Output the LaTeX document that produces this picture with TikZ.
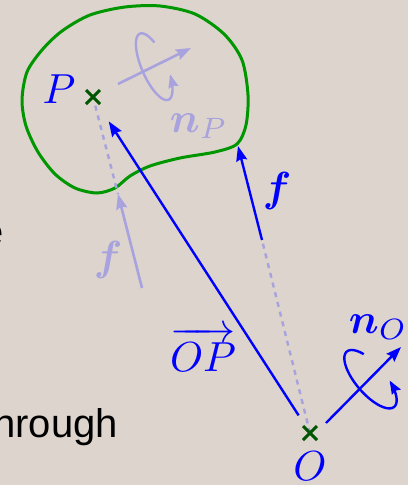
\documentclass[tikz,border=0pt]{standalone}
\usepackage{amsmath}
\usepackage{fontspec}
\newfontfamily\slidefont{Liberation Sans}
\usetikzlibrary{arrows.meta}
\definecolor{slidebg}{RGB}{220, 212, 205}
\definecolor{vecblue}{RGB}{0, 0, 255}
\definecolor{fadeblue}{RGB}{168, 162, 222}
\definecolor{bodygreen}{RGB}{0, 150, 0}
\definecolor{markgreen}{RGB}{0, 85, 0}
\newcommand{\slidesize}{\slidefont\fontsize{40}{48}\selectfont}

\begin{document}
\begin{tikzpicture}[x=1pt, y=-1pt, line join=round,
        vec/.style={draw=vecblue, line width=2.4pt, -{Stealth[length=15pt, width=11pt, inset=2pt]}},
        ghostvec/.style={draw=fadeblue, line width=2.6pt, -{Stealth[length=15pt, width=11pt, inset=2pt]}},
        spinvec/.style={line width=2.4pt, -{Stealth[length=13pt, width=10pt, inset=1.5pt]}},
        ghostline/.style={draw=fadeblue, line width=2.4pt, dash pattern=on 5pt off 5pt},
        pointmark/.style={draw=markgreen, line width=3pt},
        lbl/.style={scale=4.2, inner sep=0pt},
        slidetext/.style={font=\slidesize, text=black, inner sep=0pt}]
                % slide background
                \useasboundingbox (0, 0) rectangle (408, 485);
                \fill[slidebg] (0, 0) rectangle (408, 485);
                \clip (0, 0) rectangle (408, 485);

                % words of the slide that show at the left edge
                \node[slidetext, anchor=base east] (wordE) at (4, 245) {e};
                \node[slidetext, anchor=base west] (wordThrough) at (-18, 437) {through};

                % the body
                \draw[bodygreen, line width=3pt] plot[smooth cycle, tension=0.5] coordinates {
                    (22, 100) (27, 72) (42, 50) (62, 31) (90, 15) (125, 7) (160, 6) (195, 14)
                    (224, 34) (242, 60) (248, 95) (246, 125) (237, 144) (215, 152) (180, 158)
                    (150, 166) (130, 176) (115, 188) (97, 193) (75, 188) (55, 174) (38, 152) (26, 126)};

                \coordinate (P) at (93, 97);
                \coordinate (O) at (310, 433);
                \coordinate (fTail) at (262, 240);
                \coordinate (fHead) at (238, 146);
                \coordinate (gTail) at (142, 288);
                \coordinate (gHead) at (118, 194);
                \coordinate (nPTail) at (118, 84);
                \coordinate (nPHead) at (191, 48);
                \coordinate (nOTail) at (326, 423);
                \coordinate (nOHead) at (401, 347);

                % lines of action
                \draw[ghostline] (O) -- (fTail);
                \draw[ghostline, shorten <=9pt] (P) -- (gHead);

                % forces and position vector
                \draw[ghostvec] (gTail) -- (gHead);
                \draw[vec] (fTail) -- (fHead);
                \draw[vec, shorten <=21pt, shorten >=29pt] (O) -- (P);

                % axes with their sense of turning
                \draw[ghostvec] (nPTail) -- (nPHead);
                \draw[spinvec, draw=fadeblue] plot[domain=128:428, samples=80, variable=\t]
                    ({154.2 + 14.3*cos(\t) + 11.4*sin(\t)}, {66.7 + 33.0*cos(\t) - 4.9*sin(\t)});
                \draw[vec] (nOTail) -- (nOHead);
                \draw[spinvec, draw=vecblue] plot[domain=130:428, samples=80, variable=\t]
                    ({370.5 + 23.7*cos(\t) + 11.1*sin(\t)}, {379.2 + 27.6*cos(\t) - 9.5*sin(\t)});

                % the two points
                \draw[pointmark] (P) +(-7, -7) -- +(7, 7) (P) +(-7, 7) -- +(7, -7);
                \draw[pointmark] (O) +(-7, -7) -- +(7, 7) (O) +(-7, 7) -- +(7, -7);

                \node[lbl, text=vecblue] (labP) at (59, 89) {$P$};
                \node[lbl, text=vecblue] (labO) at (310, 466) {$O$};
                \node[lbl, text=vecblue] (labOP) at (203, 349) {$\overrightarrow{OP}$};
                \node[lbl, text=vecblue] (labF) at (277, 191) {$\boldsymbol{f}$};
                \node[lbl, text=fadeblue] (labG) at (108, 260) {$\boldsymbol{f}$};
                \node[lbl, text=fadeblue, anchor=base west] (labNP) at (169, 132) {$\boldsymbol{n}_P$};
                \node[lbl, text=vecblue, anchor=base west] (labNO) at (348, 333) {$\boldsymbol{n}_O$};
            \end{tikzpicture}
\end{document}
